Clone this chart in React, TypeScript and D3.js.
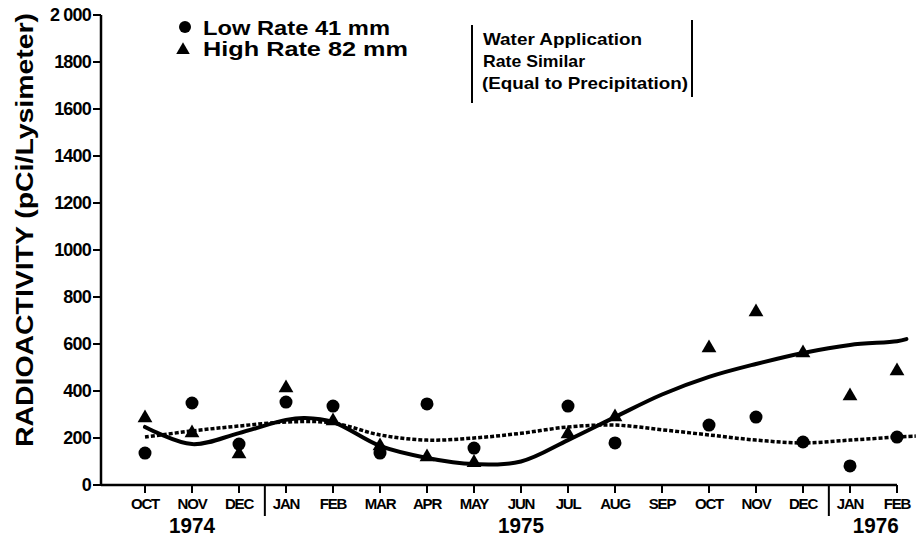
import React from "react";
import * as d3 from "d3";

const months = ["OCT","NOV","DEC","JAN","FEB","MAR","APR","MAY","JUN","JUL","AUG","SEP","OCT","NOV","DEC","JAN","FEB"];
const years = [
  { label: "1974", at: 1 },
  { label: "1975", at: 8 },
  { label: "1976", at: 15.55 },
];
const yearBreaks = [2.55, 14.55];
const yTicks = [0, 200, 400, 600, 800, 1000, 1200, 1400, 1600, 1800, 2000];

const lowIdx = [0, 1, 2, 3, 4, 5, 6, 7, 9, 10, 12, 13, 14, 15, 16];
const lowVals = [136, 349, 174, 353, 336, 136, 345, 157, 336, 179, 255, 289, 183, 81, 204];
const highIdx = [0, 1, 2, 3, 4, 5, 6, 7, 9, 10, 12, 13, 14, 15, 16];
const highVals = [285, 221, 132, 413, 272, 166, 119, 95, 217, 289, 583, 736, 562, 379, 485];

const highTrendIdx = [0, 1, 2, 3, 3.4, 4, 5, 6, 7, 8, 9, 10, 11, 12, 13, 14, 15, 16, 16.2];
const highTrendVals = [247, 174, 221, 277, 285, 268, 166, 115, 89, 100, 191, 289, 385, 460, 515, 562, 596, 612, 621];
const lowTrendIdx = [0, 1, 2, 3, 4, 5, 6, 7, 8, 9, 10, 11, 12, 13, 14, 15, 16, 16.4];
const lowTrendVals = [204, 230, 251, 268, 264, 213, 191, 200, 220, 247, 255, 235, 213, 191, 179, 191, 204, 208];

const FONT = "'Liberation Sans', Arial, Helvetica, sans-serif";

export default function App() {
  const x = d3.scaleLinear().domain([0, 16]).range([145, 897]);
  const y = d3.scaleLinear().domain([0, 2000]).range([485, 15]);
  const line = d3
    .line<[number, number]>()
    .x((d) => x(d[0]))
    .y((d) => y(d[1]))
    .curve(d3.curveCatmullRom.alpha(0.5));
  const highPath = line(highTrendIdx.map((v, i) => [v, highTrendVals[i]]) as [number, number][]) || "";
  const lowPath = line(lowTrendIdx.map((v, i) => [v, lowTrendVals[i]]) as [number, number][]) || "";
  const tri = d3.symbol().type(d3.symbolTriangle).size(95)() || "";
  const triSmall = d3.symbol().type(d3.symbolTriangle).size(80)() || "";
  const x0 = 101;

  return (
    <svg width={922} height={539} style={{ position: "absolute", left: 0, top: 0, background: "#fff" }} fontFamily={FONT}>
      <rect width={922} height={539} fill="#fff" />
      {/* y axis */}
      <line x1={x0} x2={x0} y1={y(2000)} y2={y(0)} stroke="#000" strokeWidth={2.5} />
      {yTicks.map((t) => (
        <g key={t}>
          <line x1={x0 - 8} x2={x0} y1={y(t)} y2={y(t)} stroke="#000" strokeWidth={2} />
          <text x={91} y={y(t)} dy="0.36em" textAnchor="end" fontSize={18} fontWeight="bold" letterSpacing={-0.8}>
            {t === 2000 ? "2 000" : String(t)}
          </text>
        </g>
      ))}
      <text
        transform={`translate(33,${230}) rotate(-90)`}
        textAnchor="middle"
        fontSize={23}
        fontWeight="bold"
        textLength={434}
        lengthAdjust="spacingAndGlyphs"
      >
        RADIOACTIVITY (pCi/Lysimeter)
      </text>
      {/* x axis */}
      <line x1={x0} x2={x(16)} y1={y(0)} y2={y(0)} stroke="#000" strokeWidth={2.5} />
      {months.map((m, i) => (
        <g key={i}>
          <line x1={x(i)} x2={x(i)} y1={y(0)} y2={y(0) + 8} stroke="#000" strokeWidth={2} />
          <text x={x(i)} y={509} textAnchor="middle" fontSize={15} fontWeight="bold" letterSpacing={-1.2}>
            {m}
          </text>
        </g>
      ))}
      {yearBreaks.map((b, i) => (
        <line key={i} x1={x(b)} x2={x(b)} y1={y(0)} y2={516} stroke="#000" strokeWidth={2} />
      ))}
      {years.map((yr) => (
        <text key={yr.label} x={x(yr.at)} y={533} textAnchor="middle" fontSize={22} fontWeight="bold" textLength={46} lengthAdjust="spacingAndGlyphs">
          {yr.label}
        </text>
      ))}
      {/* trend lines */}
      <path d={lowPath} fill="none" stroke="#000" strokeWidth={3.5} strokeDasharray="4 2" />
      <path d={highPath} fill="none" stroke="#000" strokeWidth={4} strokeLinecap="round" />
      {/* markers */}
      {lowIdx.map((m, i) => (
        <circle key={"l" + i} cx={x(m)} cy={y(lowVals[i])} r={6.5} fill="#000" />
      ))}
      {highIdx.map((m, i) => (
        <path key={"h" + i} d={tri} transform={`translate(${x(m)},${y(highVals[i])})`} fill="#000" />
      ))}
      {/* legend */}
      <circle cx={185} cy={27} r={6} fill="#000" />
      <text x={203} y={35} fontSize={21} fontWeight="bold" textLength={187} lengthAdjust="spacingAndGlyphs">
        Low Rate 41 mm
      </text>
      <path d={triSmall} transform="translate(183,50)" fill="#000" />
      <text x={203} y={56} fontSize={21} fontWeight="bold" textLength={205} lengthAdjust="spacingAndGlyphs">
        High Rate 82 mm
      </text>
      {/* annotation */}
      <line x1={472} x2={472} y1={25} y2={103} stroke="#000" strokeWidth={2} />
      <line x1={692} x2={692} y1={20} y2={97} stroke="#000" strokeWidth={2} />
      <text x={483} y={45} fontSize={17} fontWeight="bold" textLength={159} lengthAdjust="spacingAndGlyphs">
        Water Application
      </text>
      <text x={483} y={67} fontSize={17} fontWeight="bold" textLength={102} lengthAdjust="spacingAndGlyphs">
        Rate Similar
      </text>
      <text x={482} y={89} fontSize={17} fontWeight="bold" textLength={206} lengthAdjust="spacingAndGlyphs">
        (Equal to Precipitation)
      </text>
    </svg>
  );
}
